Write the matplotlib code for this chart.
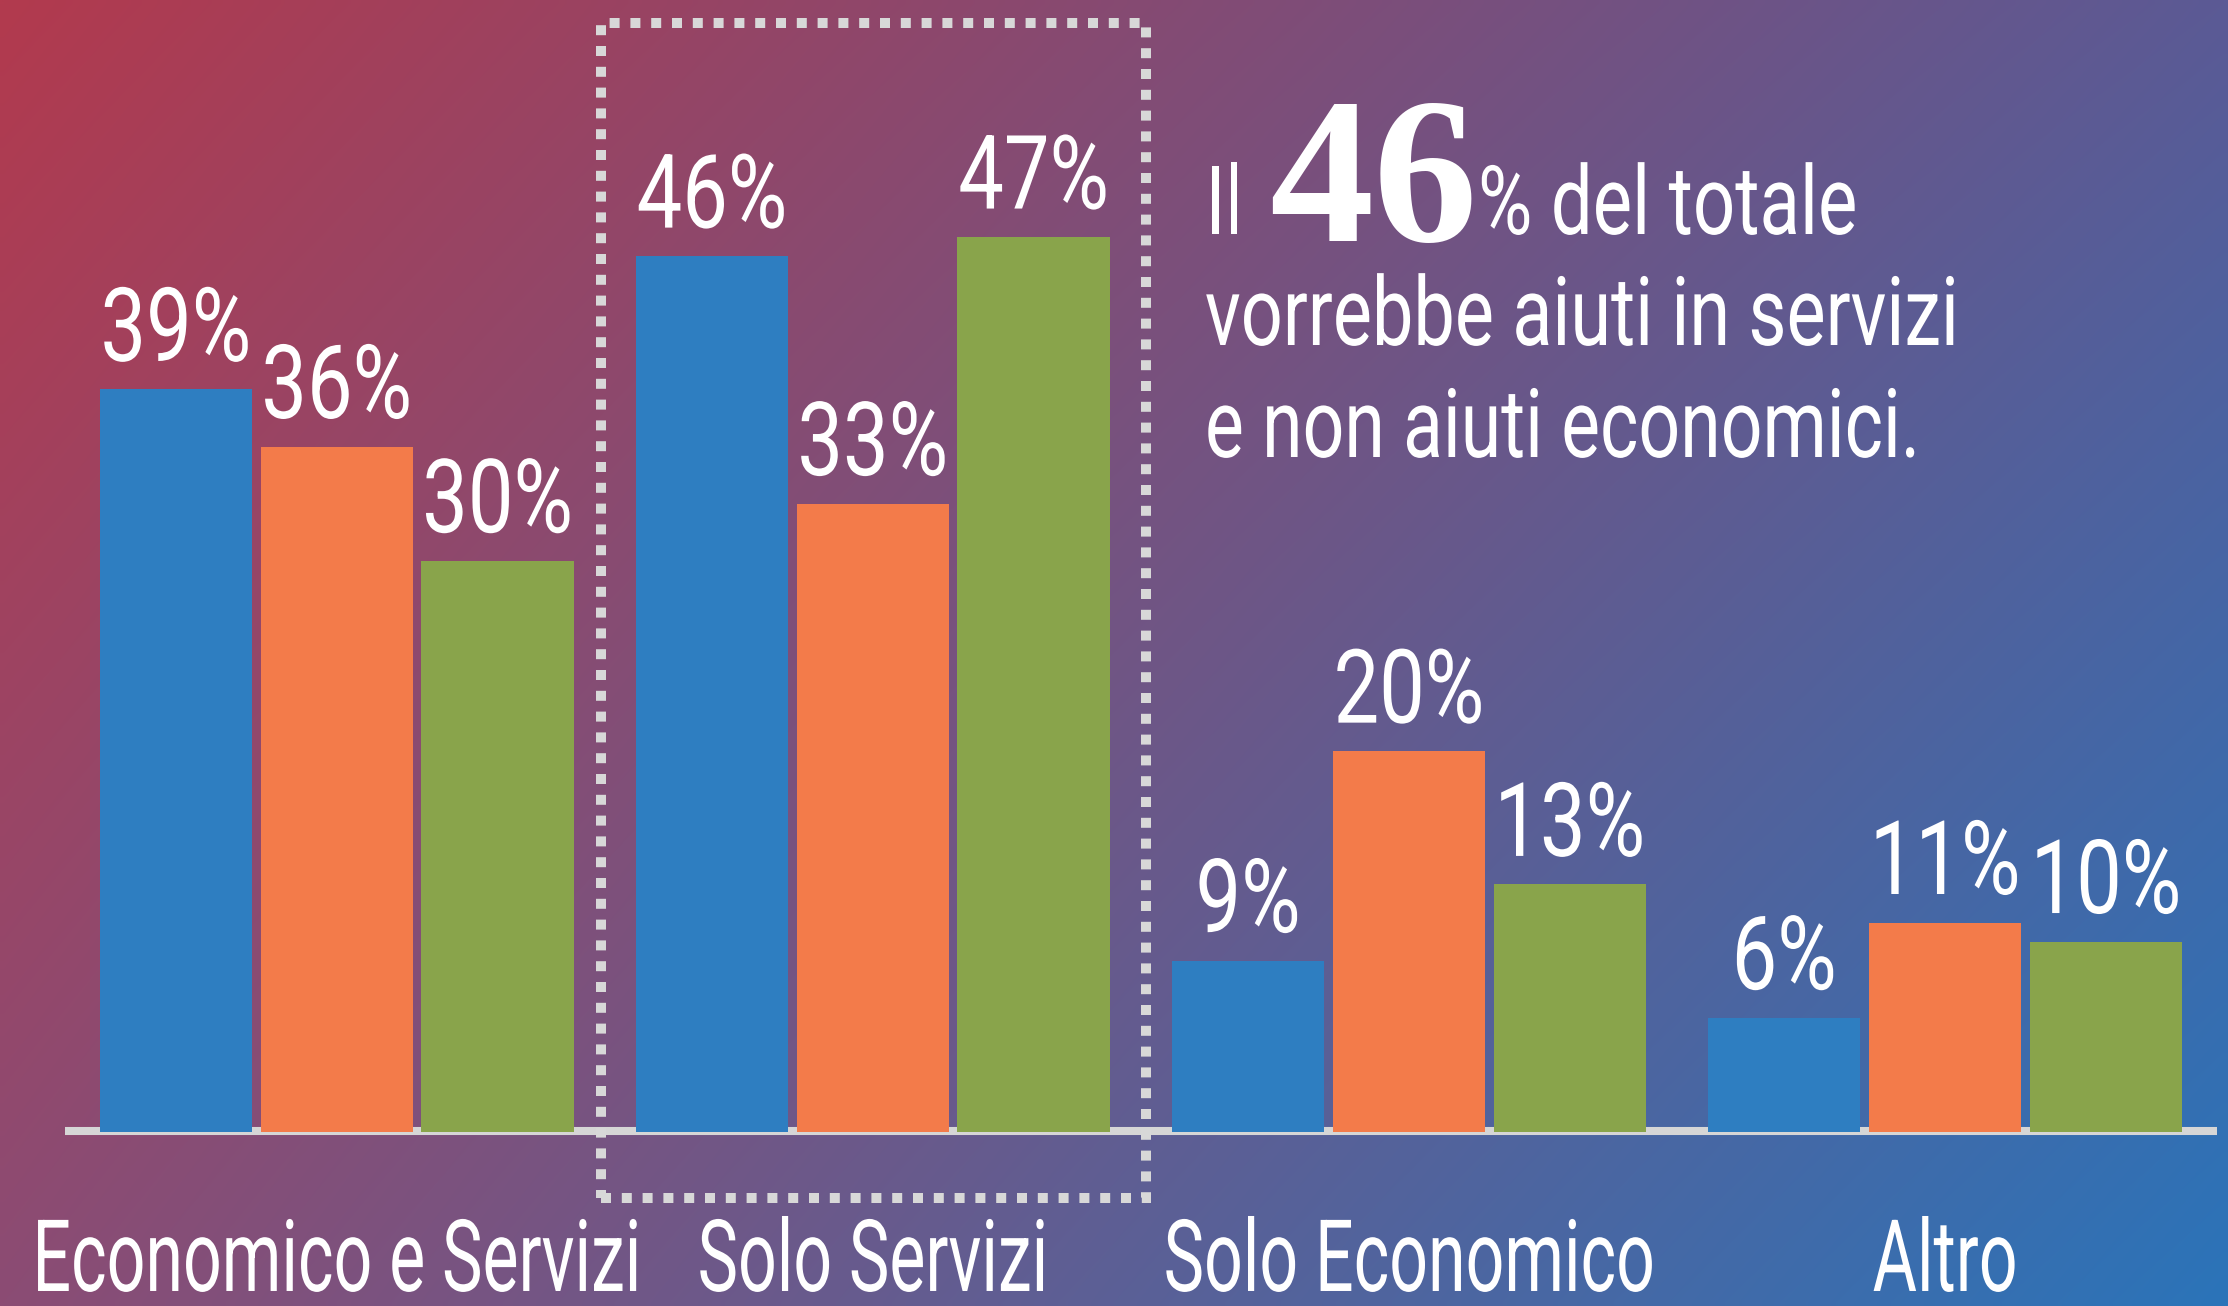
import numpy as np
import matplotlib
matplotlib.use("Agg")
import matplotlib.pyplot as plt
from matplotlib.patches import Rectangle
from matplotlib.patheffects import AbstractPathEffect
from matplotlib.transforms import Affine2D

# data
categories = ["Economico e Servizi", "Solo Servizi", "Solo Economico", "Altro"]
blu = [39, 46, 9, 6]
arancio = [36, 33, 20, 11]
verde = [30, 47, 13, 10]

colors = ["#2E7EC1", "#F37B4A", "#89A44B"]
corners = {"tl": "#B23A4E", "tr": "#5B5A95", "bl": "#8B4C74", "br": "#2B74B9"}


class Stretch(AbstractPathEffect):
    # stretches glyphs upward from their baseline -> condensed look
    def __init__(self, sy):
        super().__init__()
        self.sy = sy

    def draw_path(self, renderer, gc, tpath, affine, rgbFace=None):
        renderer.draw_path(gc, tpath, Affine2D().scale(1, self.sy) + affine,
                           rgbFace)


def ctext(obj, x, y, s, size, narrow, **kw):
    # condensed white text: real font size size*narrow, stretched back to size
    return obj.text(x, y, s, color="white", family="Roboto",
                    fontsize=size * narrow,
                    path_effects=[Stretch(1 / narrow)], **kw)


W, H = 2228, 1306
fig = plt.figure(figsize=(W / 100, H / 100), dpi=100)

# background gradient
bg = fig.add_axes([0, 0, 1, 1])
bg.set_axis_off()
c = {k: np.array(matplotlib.colors.to_rgb(v)) for k, v in corners.items()}
u = np.linspace(0, 1, 300)[None, :, None]
v = np.linspace(0, 1, 180)[:, None, None]
img = (c["tl"] * (1 - u) * (1 - v) + c["tr"] * u * (1 - v)
       + c["bl"] * (1 - u) * v + c["br"] * u * v)
bg.imshow(img, aspect="auto", extent=[0, 1, 0, 1], interpolation="bilinear")
bg.set_xlim(0, 1)
bg.set_ylim(0, 1)

ax = fig.add_axes([0, 174 / H, 1, 1132 / H])
ax.set_axis_off()
ax.set_xlim(-0.628, 3.528)
ax.set_ylim(0, 1132 / 19.04)

x = np.arange(len(categories))
step, width = 0.3, 0.284
for i, (serie, col) in enumerate(zip([blu, arancio, verde], colors)):
    pos = x + (i - 1) * step
    ax.bar(pos, serie, width=width, color=col, zorder=3)
    for p, val in zip(pos, serie):
        ctext(ax, p, val + 1.5, f"{val}%", 74, 0.79,
              ha="center", va="baseline", zorder=4)

# baseline
ax.plot([-0.507, 3.508], [0.05, 0.05], color="#D6D6D6", lw=5.8,
        solid_capstyle="butt", zorder=2, clip_on=False)

# dotted highlight box around "Solo Servizi"
ax.add_patch(Rectangle((1 - 0.507, -3.47), 1.016, 61.7, fill=False,
                       edgecolor="#D8D8D8", lw=7.2, linestyle=(0, (1, 1.08)),
                       capstyle="butt", clip_on=False, zorder=2))

for xi, cat in zip(x, categories):
    ctext(ax, xi, -8.35, cat, 72, 0.68, ha="center", va="baseline",
          clip_on=False)

# annotation
ctext(fig, 1205 / W, 1 - 234 / H, "Il", 69, 0.77, va="baseline")
fig.text(1269 / W, 1 - 241 / H, "46", color="white", family="Liberation Serif",
         weight="bold", fontsize=150, va="baseline")
ctext(fig, 1478 / W, 1 - 234 / H, "% del totale", 69, 0.775, va="baseline")
ctext(fig, 1205 / W, 1 - 345 / H, "vorrebbe aiuti in servizi", 69, 0.77,
      va="baseline")
ctext(fig, 1205 / W, 1 - 457 / H, "e non aiuti economici.", 69, 0.765,
      va="baseline")

fig.savefig("out.png", dpi=100)
